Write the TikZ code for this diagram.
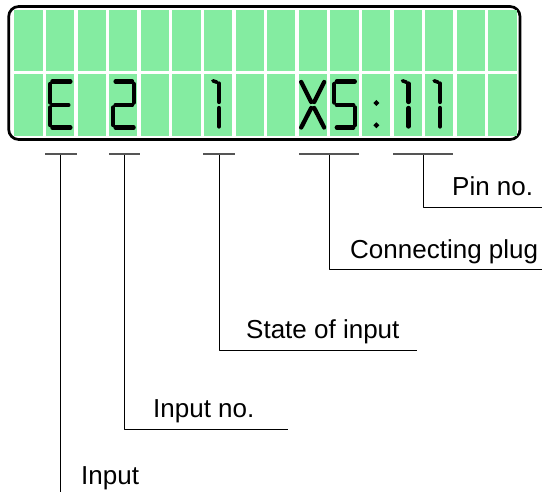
\documentclass[tikz,border=0pt]{standalone}
\usepackage{fontspec}
\setmainfont{Liberation Sans}
\usetikzlibrary{positioning,calc}
\definecolor{LcdGreen}{HTML}{84ECA1}
\definecolor{BarGray}{HTML}{555555}

\begin{document}
\begin{tikzpicture}[x=1pt,y=-1pt,line join=round,
  every node/.style={font=\fontsize{26}{30}\selectfont,inner sep=0pt},
  seg/.style={line width=4.3pt,line cap=round},
  bar/.style={fill=BarGray,minimum height=2.6pt,inner sep=0pt},
  lead/.style={line width=1pt},
  label/.style={anchor=base west}]
  \useasboundingbox (0,0) rectangle (542,492);
  % display frame and character cells
  \draw[line width=2.7pt,rounded corners=10pt,fill=white] (8.7,6.5) rectangle (520,139.5);
  \foreach \i in {0,...,15}{
    \fill[LcdGreen] (14.3+31.6*\i,10) rectangle ++(28.2,61);
    \fill[LcdGreen] (14.3+31.6*\i,74) rectangle ++(28.2,62);
  }
  % E
  \begin{scope}[shift={(14.3+31.6*1,0)}]
    \draw[seg] (4,84)--(4,102.5) (4,107.5)--(4,125) (6.5,81.5)--(24.5,81.5) (6.5,105)--(22.5,105) (6.5,127.5)--(24.5,127.5);
  \end{scope}
  % 2
  \begin{scope}[shift={(14.3+31.6*3,0)}]
    \draw[seg] (6.5,81.5)--(23,81.5) (25,84)--(25,102.5) (6.5,105)--(23,105) (4,107.5)--(4,125) (6.5,127.5)--(24.5,127.5);
  \end{scope}
  % ones
  \foreach \i in {6,12,13}{
    \begin{scope}[shift={(14.3+31.6*\i,0)}]
      \draw[seg] (15,83.5)--(15,102) (15,108)--(15,126.5);
      \draw[seg,line width=3.6pt] (9,80.8)--(13,82.2);
    \end{scope}
  }
  % X
  \begin{scope}[shift={(14.3+31.6*9,0)}]
    \draw[seg] (2.5,82)--(12.5,102) (25.5,82)--(15.5,102) (2.5,127.5)--(12.5,108) (25.5,127.5)--(15.5,108);
  \end{scope}
  % 5
  \begin{scope}[shift={(14.3+31.6*10,0)}]
    \draw[seg] (6.5,81.5)--(24.5,81.5) (4,84)--(4,102.5) (6.5,105)--(23,105) (25,107.5)--(25,125) (6.5,127.5)--(23,127.5);
  \end{scope}
  % colon
  \foreach \y in {103,125.3}{
    \fill ({14.3+31.6*11+14.5},\y-3)--++(3,3)--++(-3,3)--++(-3,-3)--cycle;
  }
  % marker bars under the fields
  \foreach \n/\x/\w in {E/60.9/31.5,N/124.5/31,S/219/32,X/329.4/60,P/423.2/60.5}{
    \node[bar,minimum width=\w pt] (bar\n) at (\x,154) {};
  }
  % labels
  \node[label] (pin) at (452,196) {Pin no.};
  \node[label] (plug) at (350,259) {Connecting plug};
  \node[label] (state) at (246,338.7) {State of input};
  \node[label] (inno) at (153,418) {Input no.};
  \node[label] (inp) at (81,484.5) {Input};
  \coordinate (endP) at (542,208);
  \coordinate (endX) at (542,269.6);
  \coordinate (endS) at (416.5,351);
  \coordinate (endN) at (288,429.6);
  \coordinate (endE) at (60.9,492);
  \draw[lead] (barP.south) |- (endP);
  \draw[lead] (barX.south) |- (endX);
  \draw[lead] (barS.south) |- (endS);
  \draw[lead] (barN.south) |- (endN);
  \draw[lead] (barE.south) -- (endE);
\end{tikzpicture}
\end{document}
